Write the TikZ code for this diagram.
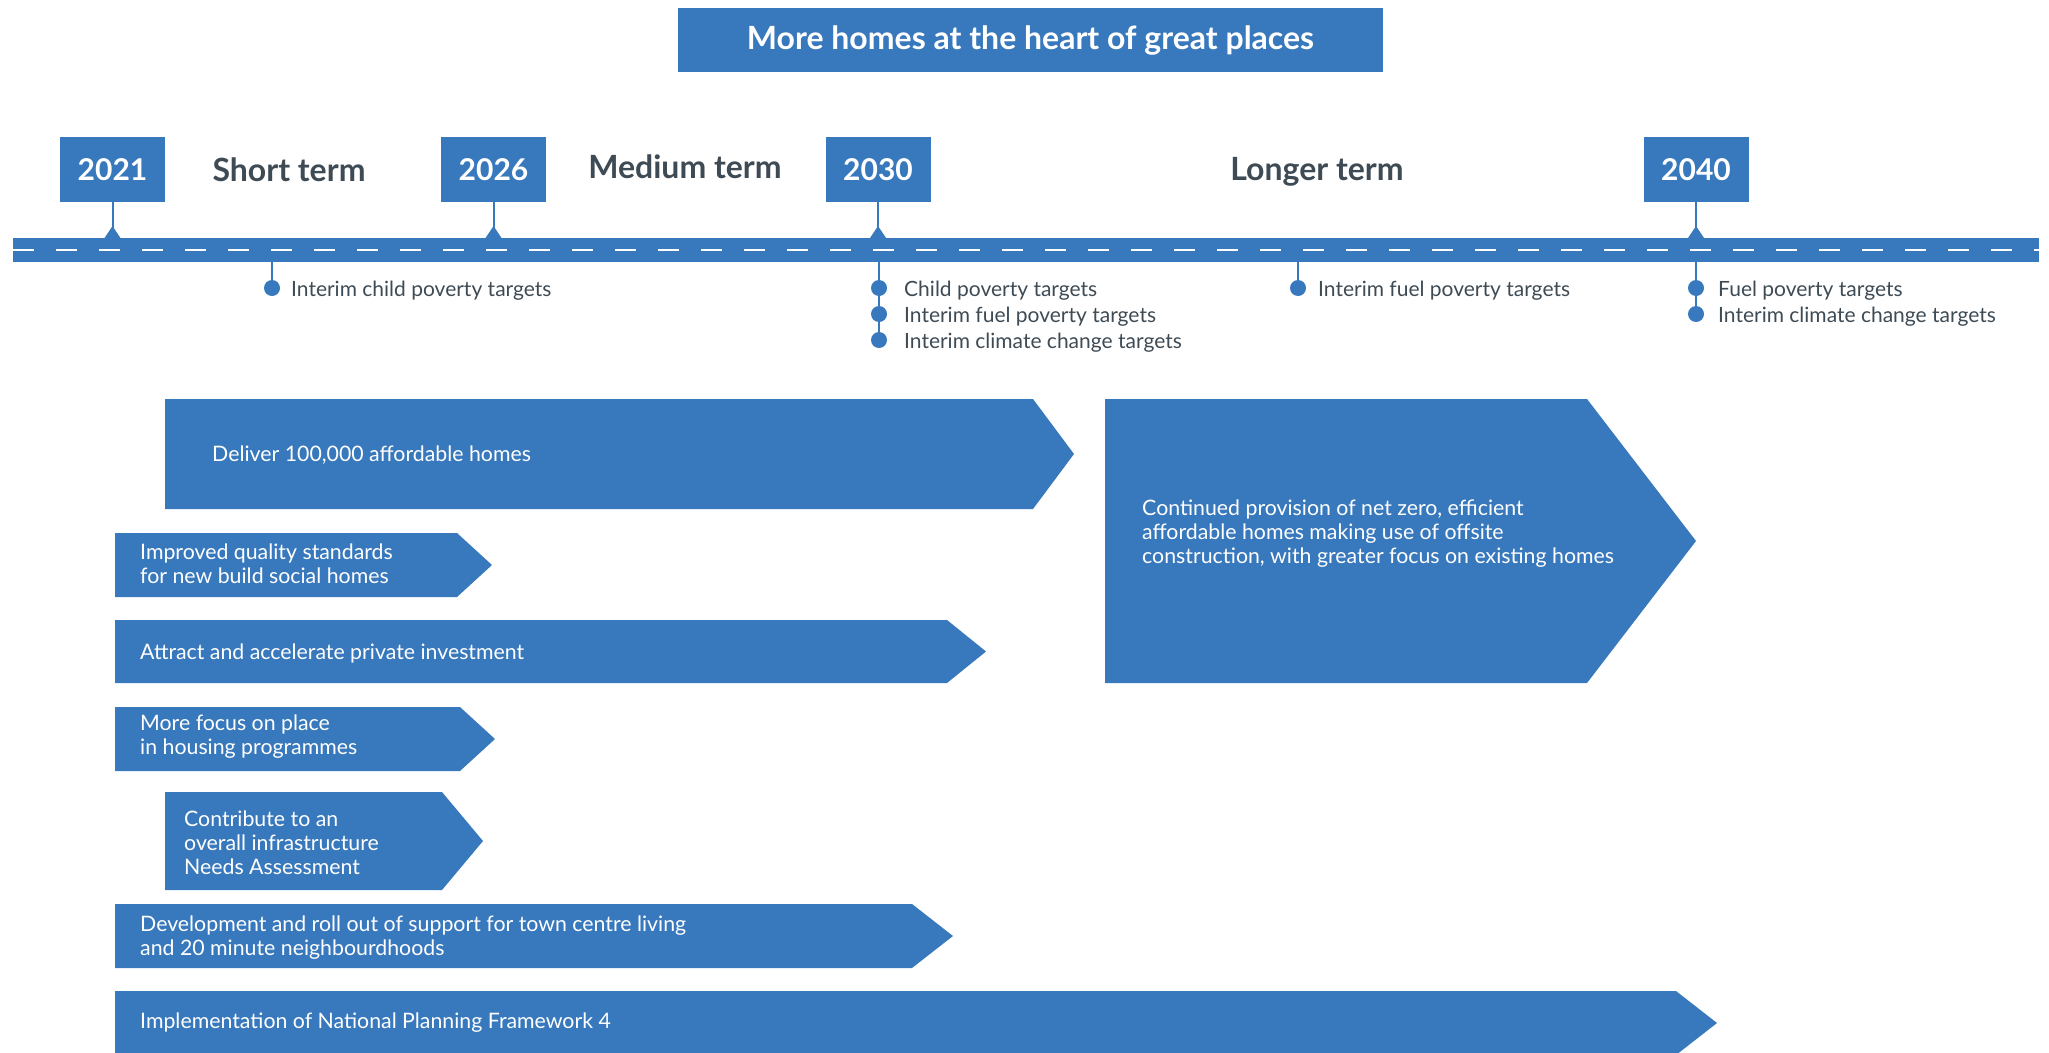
\documentclass[tikz,border=0pt]{standalone}
\usepackage{fontspec}
\setmainfont{Lato}
\usetikzlibrary{positioning}
\definecolor{hsblue}{HTML}{3878BC}
\definecolor{hstext}{HTML}{3E4B55}
\tikzset{
  yearbox/.style={fill=hsblue, text=white, font=\fontsize{30}{36}\selectfont\bfseries, minimum width=105pt, minimum height=65pt, inner sep=0pt},
  termlabel/.style={text=hstext, font=\fontsize{32}{38}\selectfont\bfseries, inner sep=0pt},
  stem/.style={draw=hsblue, line width=2pt},
  dot/.style={circle, fill=hsblue, inner sep=0pt, minimum size=16pt},
  milestone/.style={text=hstext, font=\fontsize{21}{24}\selectfont, anchor=west, inner sep=0pt},
  chevtext/.style={text=white, font=\fontsize{21.3}{24}\selectfont, anchor=west, align=left, inner sep=0pt},
}
% left, top, flat end, bottom, tip
\newcommand{\chev}[5]{\fill[hsblue] (#1,#2) -- (#3,#2) -- (#5,{(#2+#4)/2}) -- (#3,#4) -- (#1,#4) -- cycle;}
\begin{document}
\begin{tikzpicture}[x=1pt,y=-1pt]
\useasboundingbox (0,0) rectangle (2049,1052);
\clip (0,0) rectangle (2049,1052);

\node[fill=hsblue, text=white, font=\fontsize{32}{38}\selectfont\bfseries, minimum width=705pt, minimum height=64pt] (title) at (1030.5,40) {More homes at the heart of great places};

\fill[hsblue] (13,238) rectangle (2039,262);
\draw[white, line width=2.5pt, dash pattern=on 21pt off 22pt] (13,250) -- (2039,250);

\node[yearbox] (y2021) at (112.5,169.5) {2021};
\node[yearbox] (y2026) at (493.5,169.5) {2026};
\node[yearbox] (y2030) at (878,169.5) {2030};
\node[yearbox] (y2040) at (1696,169.5) {2040};

\coordinate (r2021) at (112.5,238);
\coordinate (r2026) at (493.5,238);
\coordinate (r2030) at (878,238);
\coordinate (r2040) at (1696,238);
\draw[stem] (y2021) -- (r2021);
\draw[stem] (y2026) -- (r2026);
\draw[stem] (y2030) -- (r2030);
\draw[stem] (y2040) -- (r2040);
\fill[hsblue] (104.5,238) -- (112.5,226) -- (120.5,238) -- cycle;
\fill[hsblue] (485.5,238) -- (493.5,226) -- (501.5,238) -- cycle;
\fill[hsblue] (870,238) -- (878,226) -- (886,238) -- cycle;
\fill[hsblue] (1688,238) -- (1696,226) -- (1704,238) -- cycle;

\node[termlabel] (short) at (289,170) {Short term};
\node[termlabel] (medium) at (685,167) {Medium term};
\node[termlabel] (longer) at (1317,172) {Longer term};

\coordinate (b1) at (272,262);
\node[dot] (d1) at (272,288) {};
\draw[stem] (b1) -- (d1);
\node[milestone] (m1) at (291,291) {Interim child poverty targets};

\coordinate (b2) at (879,262);
\node[dot] (d2) at (879,288) {};
\node[dot] (d3) at (879,314) {};
\node[dot] (d4) at (879,340) {};
\draw[stem] (b2) -- (d4);
\node[milestone] (m2) at (904,291) {Child poverty targets};
\node[milestone] (m3) at (904,317) {Interim fuel poverty targets};
\node[milestone] (m4) at (904,343) {Interim climate change targets};

\coordinate (b3) at (1298,262);
\node[dot] (d5) at (1298,288) {};
\draw[stem] (b3) -- (d5);
\node[milestone] (m5) at (1318,291) {Interim fuel poverty targets};

\coordinate (b4) at (1696,262);
\node[dot] (d6) at (1696,288) {};
\node[dot] (d7) at (1696,314) {};
\draw[stem] (b4) -- (d7);
\node[milestone] (m6) at (1718,291) {Fuel poverty targets};
\node[milestone] (m7) at (1718,317) {Interim climate change targets};

\chev{165}{399}{1033}{509}{1074}
\chev{1105}{399}{1587}{683}{1696}
\chev{115}{533}{457}{597}{492}
\chev{115}{620}{947}{683}{986}
\chev{115}{707}{460}{771}{495}
\chev{165}{792}{442}{890}{483}
\chev{115}{904}{912}{968}{953}
\chev{115}{991}{1676}{1055}{1717}

\node[chevtext] (deliver) at (212,455) {Deliver 100,000 affordable homes};
\node[chevtext] (continued) at (1142,534) {Continued provision of net zero, efficient\\affordable homes making use of offsite\\construction, with greater focus on existing homes};
\node[chevtext] (quality) at (140,564) {Improved quality standards\\for new build social homes};
\node[chevtext] (invest) at (140,653) {Attract and accelerate private investment};
\node[chevtext] (place) at (140,737) {More focus on place\\in housing programmes};
\node[chevtext] (infra) at (184,843) {Contribute to an\\overall infrastructure\\Needs Assessment};
\node[chevtext] (towns) at (140,938) {Development and roll out of support for town centre living\\and 20 minute neighbourdhoods};
\node[chevtext] (npf) at (140,1023) {Implementation of National Planning Framework 4};
\end{tikzpicture}
\end{document}
